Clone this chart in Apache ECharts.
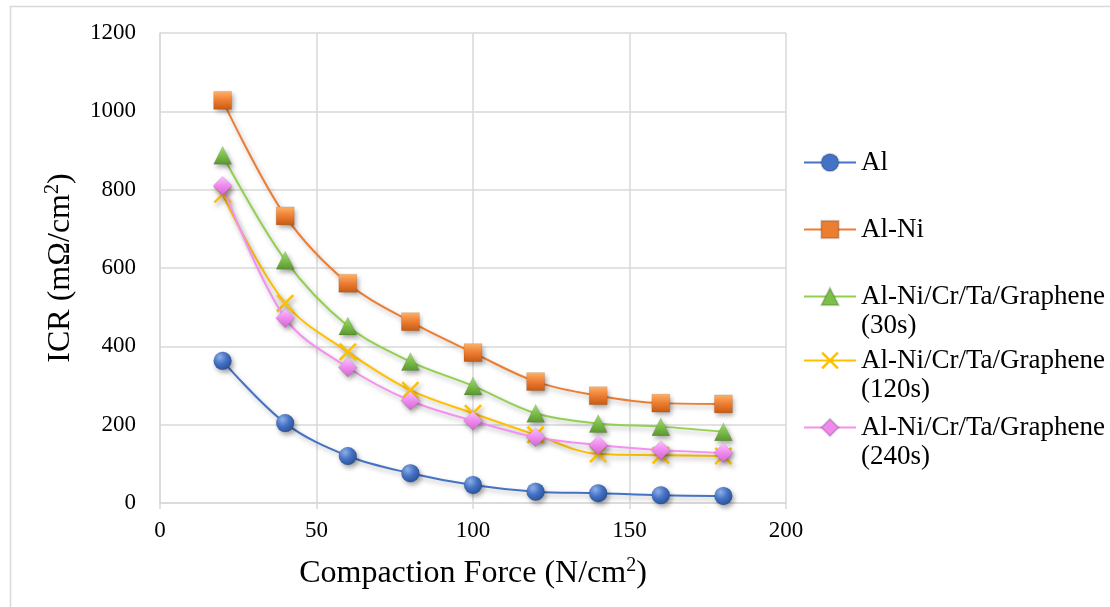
<!DOCTYPE html>
<html>
<head>
<meta charset="utf-8">
<script src="https://cdn.jsdelivr.net/npm/echarts@6/dist/echarts.min.js"></script>
<style>
html,body{margin:0;padding:0;background:#fff;}
#c{width:1110px;height:607px;}
</style>
</head>
<body>
<div id="c"></div>
<script>
const forces = [20, 40, 60, 80, 100, 120, 140, 160, 180];
const seriesNames = ['Al', 'Al-Ni', 'Al-Ni/Cr/Ta/Graphene (30s)', 'Al-Ni/Cr/Ta/Graphene (120s)', 'Al-Ni/Cr/Ta/Graphene (240s)'];
const al      = [363, 204, 120, 76, 46, 29, 25, 20, 18];
const alNi    = [1028, 733, 561, 463, 384, 310, 274, 255, 253];
const g30     = [888, 620, 452, 361, 299, 229, 203, 195, 182];
const g120    = [788, 510, 386, 288, 229, 174, 125, 122, 120];
const g240    = [810, 472, 346, 261, 210, 168, 148, 135, 128];
const xTicks = [0, 50, 100, 150, 200];
const yTicks = [0, 200, 400, 600, 800, 1000, 1200];
const xTitle = ['Compaction Force (N/cm', '2', ')'];
const yTitle = ['ICR (mΩ/cm', '2', ')'];

const allValues = [al, alNi, g30, g120, g240];
const colors = ['#4472C4', '#ED7D31', '#7CC04A', '#FFC000', '#EE8AEE'];
const lineColors = ['#4472C4', '#ED7D31', '#92D050', '#FFC000', '#F590F0'];
const crossPath = 'path://M0,1 L1,0 L5,4 L9,0 L10,1 L6,5 L10,9 L9,10 L5,6 L1,10 L0,9 L4,5 Z';
const symbols = ['circle', 'rect', 'triangle', crossPath, 'diamond'];
const sizes = [18, 18, 18, 18, 19];

function grad(c, light, dark, radial) {
  if (radial) {
    return new echarts.graphic.RadialGradient(0.35, 0.3, 0.75, [
      {offset: 0, color: light}, {offset: 0.5, color: c}, {offset: 1, color: dark}]);
  }
  return new echarts.graphic.LinearGradient(0, 0, 0, 1, [
    {offset: 0, color: light}, {offset: 0.5, color: c}, {offset: 1, color: dark}]);
}
const fills = [
  grad('#4472C4', '#8FB0EA', '#2A4F96', true),
  grad('#ED7D31', '#FFB36B', '#C65A14', false),
  grad('#7CC04A', '#A8DB7C', '#5B9430', false),
  '#FFC000',
  grad('#EE8AEE', '#FFC2FF', '#CF66CF', false)
];

const series = seriesNames.map((name, i) => ({
  name: name,
  type: 'line',
  smooth: 0.35,
  symbol: symbols[i],
  symbolSize: sizes[i],
  data: forces.map((f, k) => [f, allValues[i][k]]),
  lineStyle: {color: lineColors[i], width: 2, shadowColor: 'rgba(0,0,0,0.28)', shadowBlur: 5, shadowOffsetX: 2, shadowOffsetY: 3},
  itemStyle: {color: fills[i], borderColor: i === 3 ? '#FFC000' : 'rgba(0,0,0,0.15)', borderWidth: i === 3 ? 0 : 0.6, shadowColor: 'rgba(0,0,0,0.35)', shadowBlur: 5, shadowOffsetX: 2, shadowOffsetY: 3},
  emphasis: {disabled: true},
  z: 2 + i
}));

const legendTops = [148, 215, 253, 317, 384];
const legends = seriesNames.map((name, i) => {
  const twoLine = name.indexOf(' (') >= 0;
  return {
    data: [{name: name, itemStyle: {color: colors[i], shadowBlur: 0, shadowOffsetX: 0, shadowOffsetY: 0}}],
    left: 803,
    top: legendTops[i],
    padding: 0,
    orient: 'vertical',
    itemWidth: 52,
    itemHeight: 22,
    itemGap: 0,
    selectedMode: false,
    textStyle: {fontFamily: 'Liberation Serif', fontSize: 27, color: '#000', lineHeight: 29},
    formatter: n => twoLine ? '\u200B\n' + n.replace(' (', '\n(') : n
  };
});

const titleRich = {
  a: {fontFamily: 'Liberation Serif', fontSize: 32, color: '#000', lineHeight: 36},
  s: {fontFamily: 'Liberation Serif', fontSize: 20, color: '#000', lineHeight: 22, verticalAlign: 'top'}
};
const richName = parts => '{a|' + parts[0] + '}{s|' + parts[1] + '}{a|' + parts[2] + '}';

const chart = echarts.init(document.getElementById('c'), null, {renderer: 'canvas'});
chart.setOption({
  animation: false,
  backgroundColor: '#fff',
  graphic: [{type: 'rect', shape: {x: 10.5, y: 6.5, width: 1200, height: 700}, style: {fill: 'none', stroke: '#D9D9D9', lineWidth: 1.5}, silent: true}],
  grid: {left: 160, right: 324, top: 33, bottom: 104, containLabel: false},
  legend: legends,
  xAxis: {
    type: 'value', min: 0, max: 200, interval: 50,
    name: richName(xTitle), nameLocation: 'middle', nameGap: 53,
    nameTextStyle: {rich: titleRich},
    axisLine: {show: true, lineStyle: {color: '#D9D9D9', width: 1.5}},
    axisTick: {show: true, length: 6, lineStyle: {color: '#D9D9D9', width: 1.5}},
    axisLabel: {fontFamily: 'Liberation Serif', fontSize: 23, color: '#000', margin: 16, formatter: v => String(v)},
    splitLine: {show: true, lineStyle: {color: '#D9D9D9', width: 1.5}}
  },
  yAxis: {
    type: 'value', min: 0, max: 1200, interval: 200,
    name: richName(yTitle), nameLocation: 'middle', nameGap: 81,
    nameTextStyle: {rich: titleRich},
    axisLine: {show: true, lineStyle: {color: '#D9D9D9', width: 1.5}},
    axisTick: {show: false},
    axisLabel: {fontFamily: 'Liberation Serif', fontSize: 23, color: '#000', margin: 24, formatter: v => String(v)},
    splitLine: {show: true, lineStyle: {color: '#D9D9D9', width: 1.5}}
  },
  series: series
});
</script>
</body>
</html>
